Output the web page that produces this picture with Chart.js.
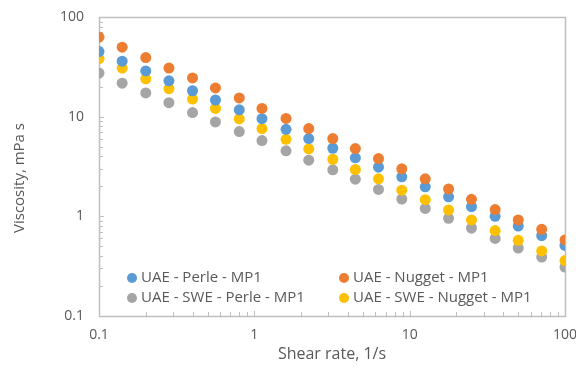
<!DOCTYPE html>
<html>
<head>
<meta charset="utf-8">
<script src="https://cdn.jsdelivr.net/npm/chart.js@4.4.1/dist/chart.umd.min.js"></script>
<style>
  html, body { margin:0; padding:0; background:#fff; }
  #wrap { width:576px; height:380px; position:relative; }
</style>
</head>
<body>
<div id="wrap"><canvas id="c" width="576" height="380"></canvas></div>
<script>
// shear rate, 1/s
const shearRate = [0.1, 0.141, 0.2, 0.282, 0.4, 0.562, 0.8, 1.12, 1.6, 2.24, 3.2, 4.47, 6.3, 8.9, 12.6, 17.8, 25, 35.5, 50, 70.8, 100];

// viscosity, mPa s
const uaePerle     = [45, 36, 28.8, 22.9, 18.2, 14.7, 11.7, 9.55, 7.47, 6.03, 4.82, 3.86, 3.11, 2.49, 1.98, 1.57, 1.25, 1.0, 0.80, 0.64, 0.51];
const uaeNugget    = [62.7, 49.8, 39.2, 30.7, 24.5, 19.4, 15.4, 12.1, 9.6, 7.59, 6.03, 4.79, 3.8, 3.0, 2.38, 1.88, 1.48, 1.17, 0.92, 0.74, 0.58];
const swePerle     = [27.4, 21.7, 17.3, 13.8, 11.0, 8.85, 7.08, 5.75, 4.54, 3.66, 2.93, 2.36, 1.86, 1.49, 1.2, 0.955, 0.76, 0.60, 0.48, 0.39, 0.31];
const sweNugget    = [38.3, 30.7, 24, 19.1, 15.0, 12.1, 9.5, 7.59, 5.93, 4.75, 3.74, 2.95, 2.38, 1.83, 1.47, 1.16, 0.92, 0.72, 0.575, 0.45, 0.36];

const xTicks = [0.1, 1, 10, 100];
const yTicks = [0.1, 1, 10, 100];

const seriesNames  = ['UAE - Perle - MP1', 'UAE - Nugget - MP1', 'UAE - SWE - Perle - MP1', 'UAE - SWE - Nugget - MP1'];
const seriesColors = ['#5B9BD5', '#ED7D31', '#A5A5A5', '#FFC000'];
const seriesData   = [uaePerle, uaeNugget, swePerle, sweNugget];

const FONT = '"Open Sans", "Noto Sans", sans-serif';
const TXT = '#595959';
const AXIS = '#BFBFBF';

const datasets = seriesNames.map((name, i) => ({
  label: name,
  data: shearRate.map((x, j) => ({ x, y: seriesData[i][j] })),
  backgroundColor: seriesColors[i],
  borderColor: seriesColors[i],
  pointRadius: 5.5,
  pointBorderWidth: 0,
  showLine: false
}));
// draw order: orange/blue on top like the original
const drawOrder = [2, 3, 0, 1];
drawOrder.forEach((idx, k) => datasets[idx].order = 4 - k);

function minorTicks(scale, horizontal, ctx, area){
  ctx.save();
  ctx.strokeStyle = AXIS;
  ctx.lineWidth = 1;
  for (let d = -1; d < 2; d++){
    for (let m = 1; m <= 10; m++){
      const v = m * Math.pow(10, d);
      const p = Math.round(scale.getPixelForValue(v)) + 0.5;
      const len = (m === 1 || m === 10) ? 5 : 4;
      ctx.beginPath();
      if (horizontal){
        ctx.moveTo(p, area.bottom); ctx.lineTo(p, area.bottom - len);
      } else {
        ctx.moveTo(area.left, p); ctx.lineTo(area.left + len, p);
      }
      ctx.stroke();
    }
  }
  ctx.restore();
}

const framePlugin = {
  id: 'frame',
  beforeDatasetsDraw(chart){
    const { ctx, chartArea: a, scales } = chart;
    ctx.save();
    ctx.strokeStyle = AXIS;
    ctx.lineWidth = 1.5;
    ctx.strokeRect(Math.round(a.left) + 0.5, Math.round(a.top) + 0.5, Math.round(a.right - a.left), Math.round(a.bottom - a.top));
    ctx.restore();
    minorTicks(scales.x, true, ctx, a);
    minorTicks(scales.y, false, ctx, a);

    // y axis title, placed like the original (a bit below the middle)
    ctx.save();
    ctx.translate(20, 178);
    ctx.rotate(-Math.PI / 2);
    ctx.font = '15px ' + FONT;
    ctx.fillStyle = TXT;
    ctx.textAlign = 'center';
    ctx.textBaseline = 'middle';
    ctx.fillText('Viscosity, mPa s', 0, 0);
    ctx.restore();
  },
  afterDatasetsDraw(chart){
    const { ctx } = chart;
    const pos = [[132, 278], [344, 278], [132, 298], [344, 298]];
    ctx.save();
    ctx.font = '15px ' + FONT;
    ctx.textBaseline = 'middle';
    chart.data.datasets.forEach((ds, i) => {
      const [x, y] = pos[i];
      ctx.fillStyle = ds.backgroundColor;
      ctx.beginPath();
      ctx.arc(x, y, 5, 0, Math.PI * 2);
      ctx.fill();
      ctx.fillStyle = TXT;
      ctx.fillText(ds.label, x + 9, y);
    });
    ctx.restore();
  }
};

new Chart(document.getElementById('c'), {
  type: 'scatter',
  data: { datasets },
  options: {
    responsive: false,
    animation: false,
    layout: { padding: { top: 17, right: 11, left: 0, bottom: 0 } },
    plugins: { legend: { display: false }, tooltip: { enabled: false } },
    scales: {
      x: {
        type: 'logarithmic',
        min: 0.1, max: 100,
        afterBuildTicks: s => { s.ticks = xTicks.map(v => ({ value: v })); },
        afterFit: s => { s.height = 64; s.paddingLeft = 0; s.paddingRight = 0; },
        grid: { display: false, drawTicks: false },
        border: { display: false },
        ticks: { color: TXT, font: { family: FONT, size: 14 }, padding: 11, maxRotation: 0,
                 callback: v => String(v) },
        title: { display: true, text: 'Shear rate, 1/s', color: TXT, font: { family: FONT, size: 16 }, padding: { top: 8, bottom: 16 } }
      },
      y: {
        type: 'logarithmic',
        min: 0.1, max: 100,
        afterBuildTicks: s => { s.ticks = yTicks.map(v => ({ value: v })); },
        afterFit: s => { s.width = 99; s.paddingTop = 0; s.paddingBottom = 0; },
        grid: { display: false, drawTicks: false },
        border: { display: false },
        ticks: { color: TXT, font: { family: FONT, size: 14 }, padding: 15,
                 callback: v => String(v) },
        title: { display: false }
      }
    }
  },
  plugins: [framePlugin]
});
</script>
</body>
</html>
